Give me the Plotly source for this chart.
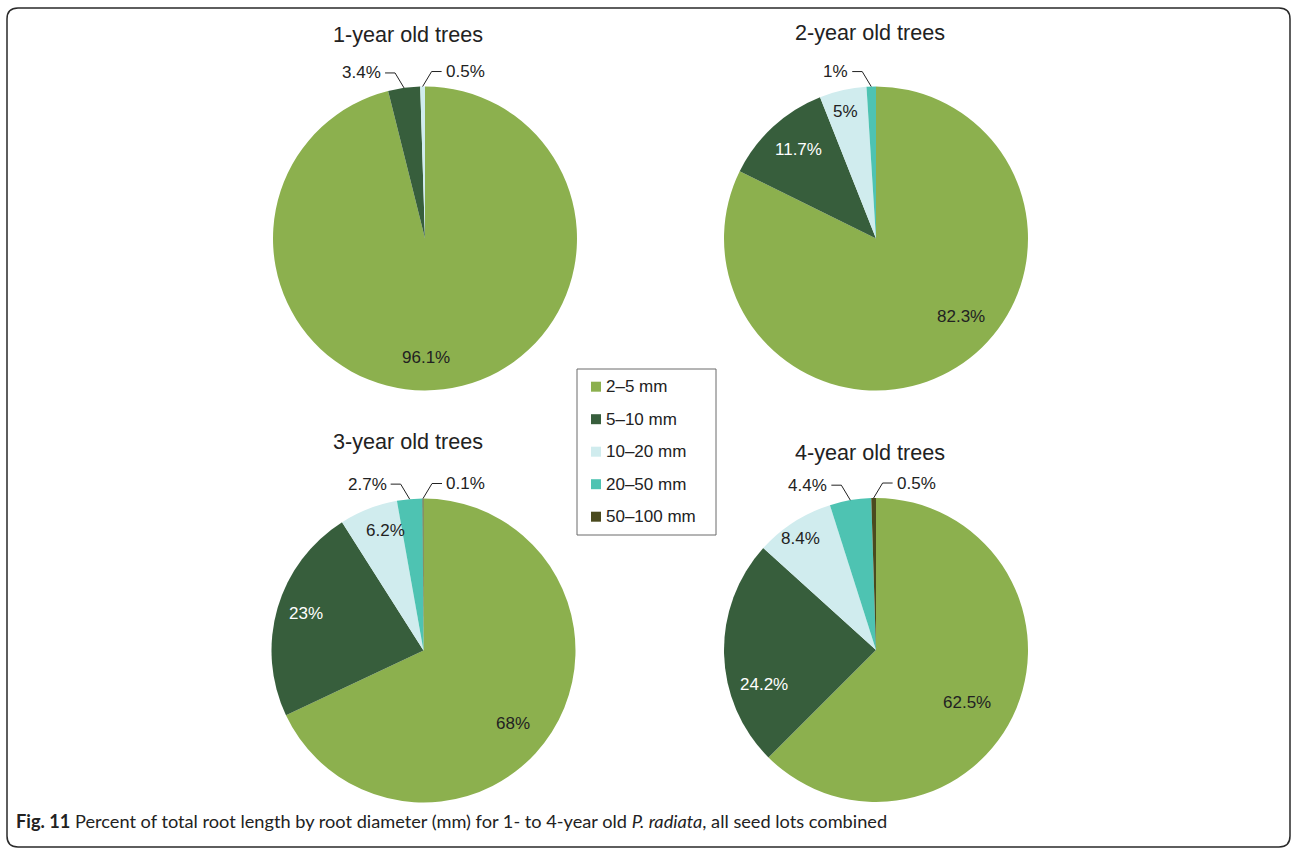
import math
import plotly.graph_objects as go

# ---- data -------------------------------------------------------------
categories = ["2–5 mm", "5–10 mm", "10–20 mm", "20–50 mm", "50–100 mm"]
panel_titles = ["1-year old trees", "2-year old trees", "3-year old trees", "4-year old trees"]
share_1yr = [96.1, 3.4, 0.5, 0, 0]
share_2yr = [82.3, 11.7, 5, 1, 0]
share_3yr = [68, 23, 6.2, 2.7, 0.1]
share_4yr = [62.5, 24.2, 8.4, 4.4, 0.5]

# ---- styling ----------------------------------------------------------
colors = ["#8CB04E", "#375E3C", "#D0ECEE", "#4EC3B2", "#4A4A1E"]
W, H = 1293, 850
R = 152
centers = [(425, 238.5), (876, 238.5), (423.5, 650.5), (876, 650)]
title_pos = [(408, 34), (870, 33), (407.5, 441), (870, 452)]
FONT = "Liberation Sans, Arial, sans-serif"
INK = "#222222"

# label placement per slice: ("in", radius fraction, angle nudge) or ("out", side)
label_style = [
    [("in", 0.78, 6.5), ("out", -1), ("out", 1), None, None],
    [("in", 0.76, -15.4), ("in", 0.78, 1.6), ("in", 0.86, -1.1), ("out", -1), None],
    [("in", 0.76, 6.6), ("in", 0.81, 1.5), ("in", 0.83, 3.9), ("out", -1), ("out", 1)],
    [("in", 0.69, 7.7), ("in", 0.77, -15.5), ("in", 0.89, -1.4), ("out", -1), ("out", 1)],
]


def px(x):
    return x / W


def py(y):
    return 1 - y / H


series = [share_1yr, share_2yr, share_3yr, share_4yr]
fig = go.Figure()
annotations = []
shapes = []

for i, values in enumerate(series):
    cx, cy = centers[i]
    fig.add_trace(go.Pie(
        labels=categories,
        values=values,
        sort=False,
        direction="clockwise",
        rotation=0,
        marker=dict(colors=colors, line=dict(width=0)),
        textinfo="none",
        showlegend=False,
        domain=dict(x=[px(cx - R), px(cx + R)], y=[py(cy + R), py(cy - R)]),
        hovertemplate="%{label}: %{value}%<extra></extra>",
    ))

    tx, ty = title_pos[i]
    annotations.append(dict(
        x=px(tx), y=py(ty), xref="paper", yref="paper", text=panel_titles[i],
        showarrow=False, xanchor="center", yanchor="middle",
        font=dict(family=FONT, size=21.6, color=INK),
    ))

    total = sum(values)
    cum = 0.0
    for j, v in enumerate(values):
        style = label_style[i][j]
        if v <= 0 or style is None:
            cum += v
            continue
        mid = (cum + v / 2) / total * 360.0
        cum += v
        label = f"{v:g}%"
        if style[0] == "in":
            _, rf, nudge = style
            a = math.radians(mid + nudge)
            lx = cx + rf * R * math.sin(a)
            ly = cy - rf * R * math.cos(a)
            annotations.append(dict(
                x=px(lx), y=py(ly), xref="paper", yref="paper", text=label,
                showarrow=False, xanchor="center", yanchor="middle",
                font=dict(family=FONT, size=17,
                          color="#ffffff" if j == 1 else INK),
            ))
        else:
            side = style[1]
            a = math.radians(mid)
            ex = cx + R * math.sin(a)
            ey = cy - R * math.cos(a)
            elx, ely = ex + side * 9, ey - 15
            endx = elx + side * 10
            shapes.append(dict(
                type="path", xref="paper", yref="paper",
                path=f"M {px(ex)},{py(ey)} L {px(elx)},{py(ely)} L {px(endx)},{py(ely)}",
                line=dict(color=INK, width=1),
            ))
            annotations.append(dict(
                x=px(endx + side * 2), y=py(ely), xref="paper", yref="paper",
                text=label, showarrow=False,
                xanchor="left" if side > 0 else "right", yanchor="middle",
                font=dict(family=FONT, size=17, color=INK),
            ))

# ---- legend box -------------------------------------------------------
lg_x0, lg_y0, lg_x1, lg_y1 = 577, 369, 716, 535
shapes.append(dict(
    type="rect", xref="paper", yref="paper",
    x0=px(lg_x0), x1=px(lg_x1), y0=py(lg_y1), y1=py(lg_y0),
    line=dict(color="#6b6b6b", width=1), fillcolor="#ffffff",
))
row0, row_step = 386.7, 32.5
for k, cat in enumerate(categories):
    ry = row0 + k * row_step
    shapes.append(dict(
        type="rect", xref="paper", yref="paper",
        x0=px(591), x1=px(601), y0=py(ry + 5), y1=py(ry - 5),
        line=dict(width=0), fillcolor=colors[k],
    ))
    annotations.append(dict(
        x=px(604), y=py(ry), xref="paper", yref="paper", text=cat,
        showarrow=False, xanchor="left", yanchor="middle",
        font=dict(family=FONT, size=17, color=INK),
    ))

# ---- figure frame with rounded corners --------------------------------
fx0, fy0, fx1, fy1, cr = 7, 8, 1290, 847, 11
frame = (
    f"M {px(fx0 + cr)},{py(fy0)} L {px(fx1 - cr)},{py(fy0)} "
    f"Q {px(fx1)},{py(fy0)} {px(fx1)},{py(fy0 + cr)} "
    f"L {px(fx1)},{py(fy1 - cr)} Q {px(fx1)},{py(fy1)} {px(fx1 - cr)},{py(fy1)} "
    f"L {px(fx0 + cr)},{py(fy1)} Q {px(fx0)},{py(fy1)} {px(fx0)},{py(fy1 - cr)} "
    f"L {px(fx0)},{py(fy0 + cr)} Q {px(fx0)},{py(fy0)} {px(fx0 + cr)},{py(fy0)} Z"
)
shapes.append(dict(type="path", xref="paper", yref="paper", path=frame,
                   line=dict(color="#2a2a2a", width=1.5)))

# ---- caption ------------------------------------------------------------
annotations.append(dict(
    x=px(14), y=py(821), xref="paper", yref="paper",
    text="<b>Fig. 11</b> Percent of total root length by root diameter (mm) for 1- to 4-year old "
         "<i>P. radiata</i>, all seed lots combined",
    showarrow=False, xanchor="left", yanchor="middle",
    font=dict(family="Lato, sans-serif", size=18.2, color=INK),
))

fig.update_layout(
    width=W, height=H,
    margin=dict(l=0, r=0, t=0, b=0),
    paper_bgcolor="#ffffff", plot_bgcolor="#ffffff",
    annotations=annotations, shapes=shapes,
    showlegend=False,
)

fig.write_html("out.html")
